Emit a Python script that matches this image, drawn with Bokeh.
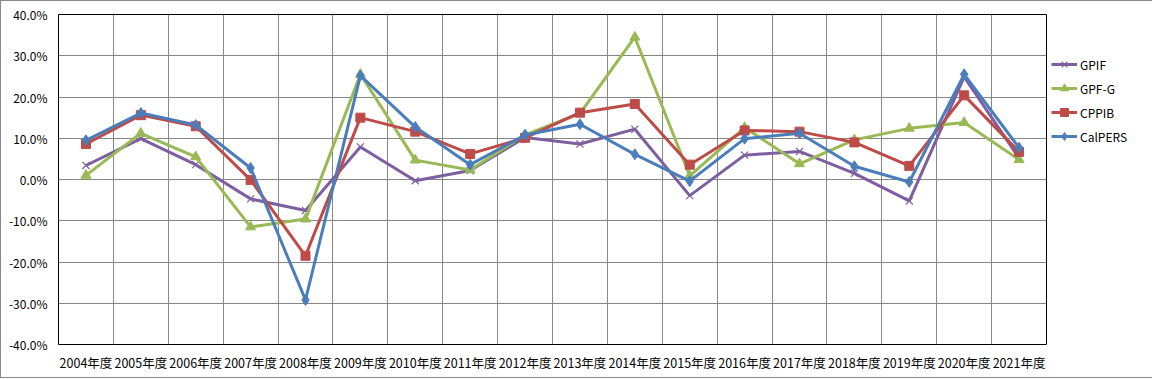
from bokeh.plotting import figure
from bokeh.models import FixedTicker, Legend, LegendItem, Range1d
from bokeh.embed import file_html
from bokeh.resources import INLINE

categories = ["2004年度", "2005年度", "2006年度", "2007年度", "2008年度", "2009年度",
              "2010年度", "2011年度", "2012年度", "2013年度", "2014年度", "2015年度",
              "2016年度", "2017年度", "2018年度", "2019年度", "2020年度", "2021年度"]

gpif = [3.4, 9.9, 3.6, -4.7, -7.5, 7.9, -0.3, 2.2, 10.2, 8.6, 12.2, -3.9, 5.9, 6.8, 1.5, -5.2, 24.9, 5.2]
gpfg = [1.0, 11.2, 5.5, -11.5, -9.6, 25.5, 4.7, 2.3, 10.8, 16.0, 34.5, 0.9, 12.6, 3.8, 9.6, 12.4, 13.8, 4.8]
cppib = [8.6, 15.6, 12.9, -0.1, -18.5, 15.0, 11.6, 6.2, 10.1, 16.2, 18.3, 3.6, 11.9, 11.6, 9.0, 3.3, 20.4, 6.7]
calpers = [9.5, 16.1, 13.2, 2.8, -29.2, 25.2, 12.7, 3.6, 10.8, 13.4, 6.1, -0.4, 9.9, 11.2, 3.2, -0.6, 25.5, 7.7]

y_ticks = [-40, -30, -20, -10, 0, 10, 20, 30, 40]
y_labels = ["-40.0%", "-30.0%", "-20.0%", "-10.0%", "0.0%", "10.0%", "20.0%", "30.0%", "40.0%"]

series = [
    ("GPIF", gpif, "#7D5FA0", "x", 10),
    ("GPF-G", gpfg, "#98B954", "triangle", 10),
    ("CPPIB", cppib, "#BE4B48", "square", 9),
    ("CalPERS", calpers, "#4A7EBB", "diamond", 11),
]

FONT = "Noto Sans CJK JP"

p = figure(frame_width=988, frame_height=330, output_backend="svg", toolbar_location=None,
           x_range=Range1d(0, len(categories)), y_range=Range1d(-40, 40),
           min_border_left=57, min_border_right=103, min_border_top=13, min_border_bottom=33)
p.styles = {"border": "1px solid #8a8a8a"}
p.background_fill_color = "white"
p.border_fill_color = "white"
p.outline_line_color = "black"
p.outline_line_width = 1

xs = [i + 0.5 for i in range(len(categories))]

p.xaxis.ticker = FixedTicker(ticks=xs)
p.xaxis.major_label_overrides = {x: c for x, c in zip(xs, categories)}
p.xgrid.ticker = FixedTicker(ticks=list(range(len(categories) + 1)))
p.yaxis.ticker = FixedTicker(ticks=y_ticks)
p.yaxis.major_label_overrides = {t: l for t, l in zip(y_ticks, y_labels)}

for ax in (p.xaxis[0], p.yaxis[0]):
    ax.axis_line_color = None
    ax.major_tick_line_color = None
    ax.minor_tick_line_color = None
    ax.major_tick_out = 0
    ax.major_tick_in = 0
    ax.major_label_text_font = FONT
    ax.major_label_text_color = "black"
p.xaxis.major_label_text_font_size = "12.5px"
p.yaxis.major_label_text_font_size = "12px"
p.xaxis.major_label_standoff = 8
p.yaxis.major_label_standoff = 11

for g in (p.xgrid[0], p.ygrid[0]):
    g.grid_line_color = "#868686"
    g.grid_line_width = 1

items = []
for name, vals, color, marker, size in series:
    ln = p.line(xs, vals, line_color=color, line_width=3)
    if marker == "x":
        sc = p.scatter(xs, vals, marker="x", size=size, line_color=color, line_width=1.2)
    else:
        sc = p.scatter(xs, vals, marker=marker, size=size, fill_color=color, line_color=color)
    items.append(LegendItem(label=name, renderers=[ln, sc]))

legend = Legend(items=items, location=(5, 198), orientation="vertical",
                background_fill_alpha=0, border_line_alpha=0,
                padding=0, margin=0, spacing=4, glyph_width=26, glyph_height=20,
                label_standoff=3, label_text_font=FONT, label_text_font_size="12px",
                label_text_color="black")
p.add_layout(legend, "right")

open("out.html", "w").write(file_html(p, INLINE))
